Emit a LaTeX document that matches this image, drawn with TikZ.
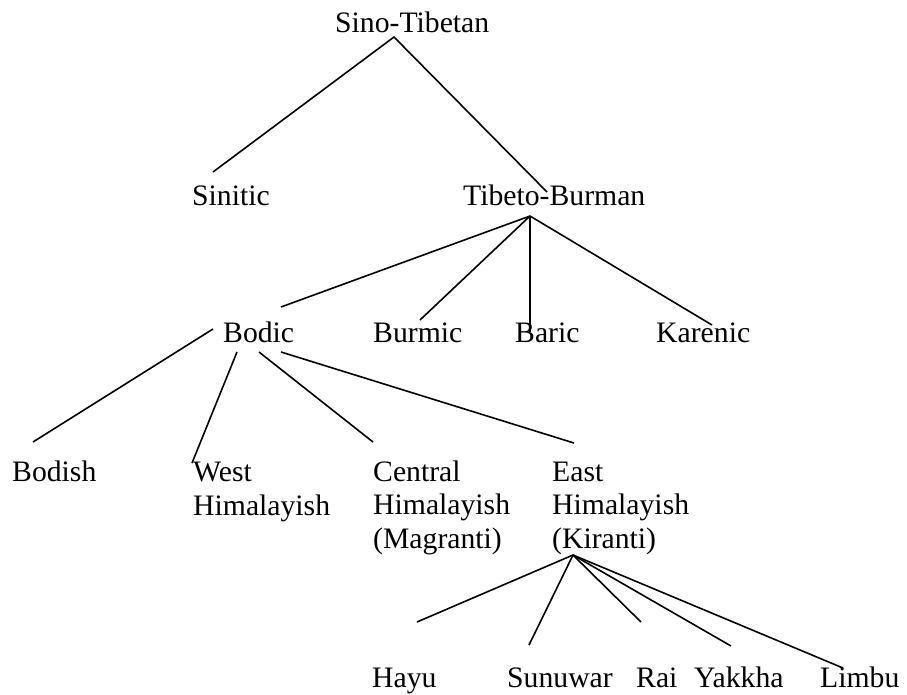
\documentclass[tikz,border=0pt]{standalone}
\usepackage{fontspec}
\setmainfont{Liberation Serif}
\begin{document}
\begin{tikzpicture}[x=1pt,y=-1pt,
  lang/.style={inner sep=0pt, anchor=base west, align=left,
    font=\fontsize{29.7}{33.5}\selectfont},
  branch/.style={line width=1.6pt}]
\useasboundingbox (0,0) rectangle (907,694);

% language labels (multi-line labels are placed by their last baseline)
\node[lang] (sino)    at (335,32)  {Sino-Tibetan};
\node[lang] (sinitic) at (192,205) {Sinitic};
\node[lang] (tb)      at (463,205) {Tibeto-Burman};
\node[lang] (bodic)   at (223,342) {Bodic};
\node[lang] (burmic)  at (373,342) {Burmic};
\node[lang] (baric)   at (515,342) {Baric};
\node[lang] (karenic) at (656,342) {Karenic};
\node[lang] (bodish)  at (12,481)  {Bodish};
\node[lang] (westh)   at (193,515) {West\\Himalayish};
\node[lang] (centh)   at (373,548) {Central\\Himalayish\\(Magranti)};
\node[lang] (easth)   at (552,548) {East\\Himalayish\\(Kiranti)};
\node[lang] (hayu)    at (372,687) {Hayu};
\node[lang] (sunuwar) at (507,687) {Sunuwar};
\node[lang] (rai)     at (636,687) {Rai};
\node[lang] (yakkha)  at (694,687) {Yakkha};
\node[lang] (limbu)   at (820,687) {Limbu};

% branch end points
\coordinate (sino-b)    at (394,37);
\coordinate (sinitic-t) at (213,172);
\coordinate (tb-t)      at (547,192);
\coordinate (tb-b)      at (530,216);
\coordinate (bodic-t)   at (281,307);
\coordinate (burmic-t)  at (420,320);
\coordinate (baric-t)   at (530,332);
\coordinate (karenic-t) at (712,325);
\coordinate (bodic-bl)  at (213,329);
\coordinate (bodic-b1)  at (237,352);
\coordinate (bodic-b2)  at (259,352);
\coordinate (bodic-b3)  at (281,352);
\coordinate (bodish-t)  at (33,442);
\coordinate (westh-t)   at (192,463);
\coordinate (centh-t)   at (373,442);
\coordinate (easth-t)   at (574,443);
\coordinate (easth-b)   at (573,555);
\coordinate (hayu-t)    at (417,622);
\coordinate (sunuwar-t) at (529,645);
\coordinate (rai-t)     at (641,622);
\coordinate (yakkha-t)  at (731,646);
\coordinate (limbu-t)   at (843,668);

% branches
\draw[branch] (sinitic-t) -- (sino-b) -- (tb-t);
\draw[branch] (tb-b) -- (bodic-t);
\draw[branch] (tb-b) -- (burmic-t);
\draw[branch] (tb-b) -- (baric-t);
\draw[branch] (tb-b) -- (karenic-t);
\draw[branch] (bodic-bl) -- (bodish-t);
\draw[branch] (bodic-b1) -- (westh-t);
\draw[branch] (bodic-b2) -- (centh-t);
\draw[branch] (bodic-b3) -- (easth-t);
\draw[branch] (easth-b) -- (hayu-t);
\draw[branch] (easth-b) -- (sunuwar-t);
\draw[branch] (easth-b) -- (rai-t);
\draw[branch] (easth-b) -- (yakkha-t);
\draw[branch] (easth-b) -- (limbu-t);
\end{tikzpicture}
\end{document}
